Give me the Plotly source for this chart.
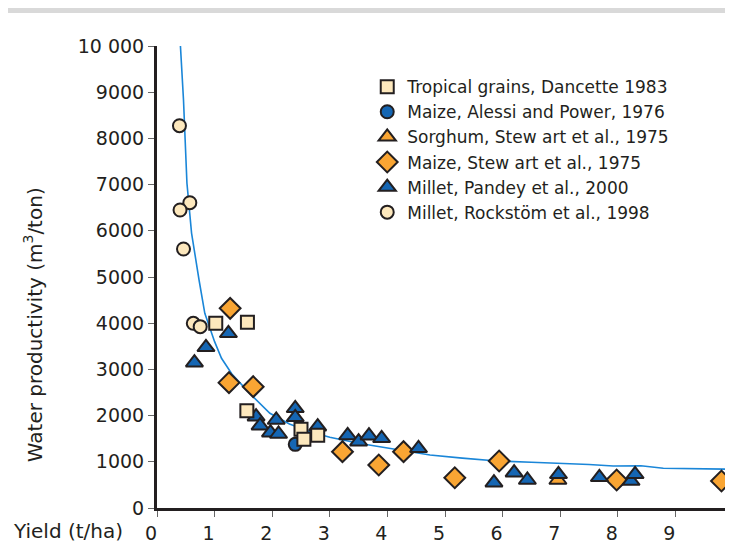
import plotly.graph_objects as go

# curve
curve_x = [0.40, 0.46, 0.52, 0.60, 0.73, 0.83, 1.00, 1.12, 1.30, 1.61, 1.96, 2.30, 2.66, 3.00,
           3.50, 4.00, 4.74, 5.30, 5.90, 6.50, 7.00, 7.50, 7.92, 8.40, 8.79, 9.40, 10.0]
curve_y = [10150, 8830, 7030, 5950, 4935, 4214, 3600, 3240, 2900, 2482, 2050, 1820, 1652, 1530,
           1400, 1300, 1147, 1080, 1017, 990, 970, 940, 909, 915, 859, 850, 838]

# Tropical grains, Dancette 1983
trop_x = [1.02, 1.57, 1.56, 2.50, 2.55, 2.79]
trop_y = [3998, 4020, 2106, 1703, 1487, 1573]

# Maize, Alessi and Power, 1976
alessi_x = [2.40]
alessi_y = [1378]

# Sorghum, Stewart et al., 1975
sorg_x = [6.96]
sorg_y = [606]

# Maize, Stewart et al., 1975
mst_x = [1.27, 1.25, 1.67, 3.22, 3.85, 4.28, 5.17, 5.94, 7.98, 9.80]
mst_y = [4322, 2713, 2626, 1219, 931, 1219, 656, 1017, 606, 584]

# Millet, Pandey et al., 2000
pan_x = [0.65, 0.85, 1.24, 1.72, 1.79, 1.97, 2.07, 2.11, 2.40, 2.40, 2.79, 3.31, 3.50, 3.68,
         3.90, 4.54, 5.85, 6.20, 6.43, 6.97, 7.68, 8.23, 8.30]
pan_y = [3146, 3478, 3781, 1977, 1782, 1630, 1905, 1602, 2158, 1963, 1760, 1570, 1435, 1565,
         1508, 1292, 548, 765, 606, 729, 664, 584, 729]

# Millet, Rockstöm et al., 1998
rock_x = [0.39, 0.57, 0.40, 0.46, 0.63, 0.75]
rock_y = [8275, 6608, 6450, 5606, 3998, 3925]

yticks = [0, 1000, 2000, 3000, 4000, 5000, 6000, 7000, 8000, 9000, 10000]
ytext = ["0", "1000", "2000", "3000", "4000", "5000", "6000", "7000", "8000", "9000", "10 000"]
xticks = list(range(0, 11))

INK = "#231f20"
BLUE = "#1566b3"
ORANGE = "#f9a533"
CREAM = "#fde8bd"
FONT = "DejaVu Sans"

fig = go.Figure()

fig.add_trace(go.Scatter(x=curve_x, y=curve_y, mode="lines", showlegend=False,
                         line=dict(color="#1a86d8", width=1.6), hoverinfo="skip"))

def pts(x, y, name, symbol, color, size, rank):
    fig.add_trace(go.Scatter(
        x=x, y=y, mode="markers", name=name, legendrank=rank, cliponaxis=False,
        marker=dict(symbol=symbol, color=color, size=size, line=dict(color=INK, width=2))))

pts(sorg_x, sorg_y, "Sorghum, Stew art et al., 1975", "triangle-up", ORANGE, 15, 3)
pts(mst_x, mst_y, "Maize, Stew art et al., 1975", "diamond", ORANGE, 16, 4)
pts(pan_x, pan_y, "Millet, Pandey et al., 2000", "triangle-up", BLUE, 15, 5)
pts(rock_x, rock_y, "Millet, Rockstöm et al., 1998", "circle", CREAM, 13, 6)
pts(alessi_x, alessi_y, "Maize, Alessi and Power, 1976", "circle", BLUE, 13, 2)
pts(trop_x, trop_y, "Tropical grains, Dancette 1983", "square", CREAM, 13, 1)

# page puts the figure 8px in from the top-left corner
fig.update_layout(
    width=725, height=534,
    margin=dict(l=149, r=0, t=38, b=34),
    paper_bgcolor="#d9d9d9",
    plot_bgcolor="rgba(0,0,0,0)",
    font=dict(family=FONT, color=INK, size=18),
    legend=dict(x=0.365, y=0.95, xanchor="left", yanchor="top", bgcolor="rgba(0,0,0,0)",
                font=dict(size=17, color=INK), tracegroupgap=0),
    shapes=[dict(type="rect", xref="paper", yref="paper", x0=-0.26, x1=0.9965,
                 y0=-0.2, y1=1.0714, fillcolor="white", line=dict(width=0), layer="below")],
    annotations=[
        dict(text="Water productivity (m<sup>3</sup>/ton)", textangle=-90, xref="paper", yref="paper",
             x=-0.215, y=0.396, xanchor="center", yanchor="middle", showarrow=False,
             font=dict(size=20, color=INK)),
        dict(text="Yield (t/ha)", xref="paper", yref="paper", x=-0.155, y=-0.05,
             xanchor="center", yanchor="middle", showarrow=False, font=dict(size=20, color=INK)),
    ],
)

fig.update_xaxes(range=[0, 10], tickvals=xticks, showgrid=False, zeroline=False,
                 showline=True, linecolor=INK, linewidth=3, ticks="outside", ticklen=6,
                 tickcolor="#666", tickwidth=1, tickfont=dict(size=19, color=INK),
                 ticklabelshift=-6, ticklabelstandoff=0, automargin=False)
fig.update_yaxes(range=[0, 10000], tickvals=yticks, ticktext=ytext, showgrid=False,
                 zeroline=False, showline=True, linecolor=INK, linewidth=3, ticks="outside",
                 ticklen=6, tickcolor="#666", tickwidth=1, tickfont=dict(size=19, color=INK),
                 automargin=False)

fig.write_html("out.html")
